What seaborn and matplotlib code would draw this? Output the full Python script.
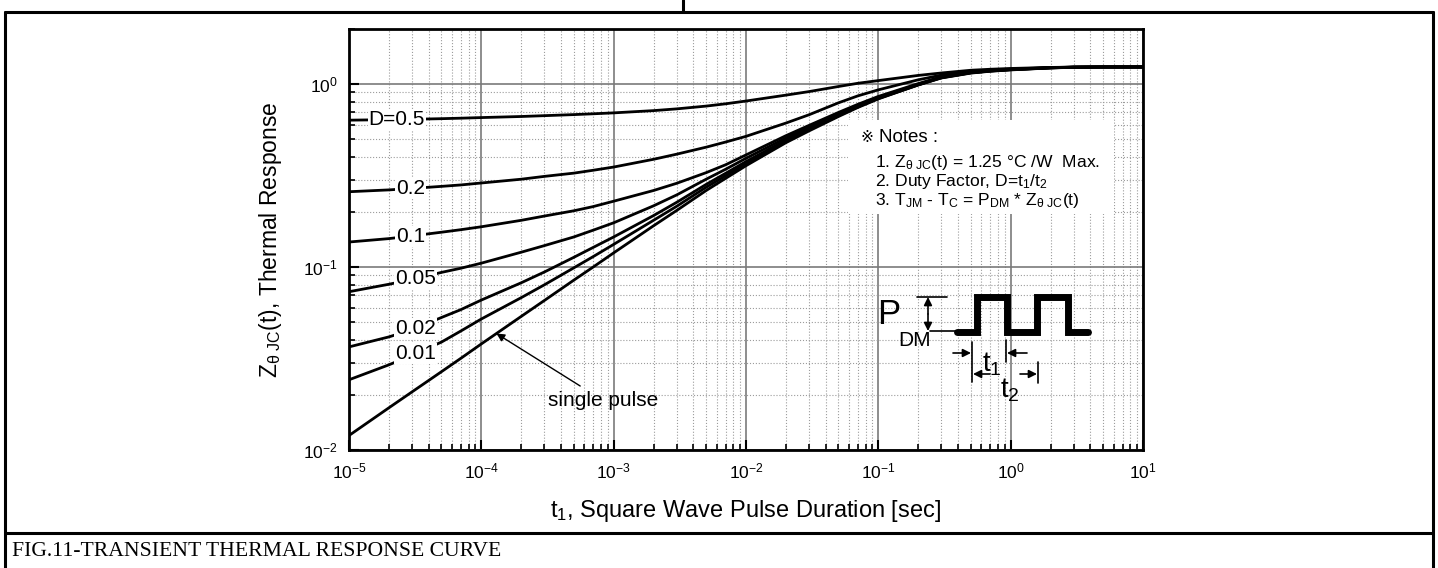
import matplotlib

matplotlib.use("Agg")
import matplotlib.pyplot as plt
import numpy as np
import pandas as pd
import seaborn as sns
from matplotlib.lines import Line2D
from matplotlib.patches import Rectangle
from matplotlib.ticker import LogLocator, NullFormatter

# reference canvas in pixels, figure is built 1:1 at dpi=100
W, H = 1438, 568

# transient thermal impedance (log-log)
pulse_duration = [1e-5, 2e-5, 3e-5, 5e-5, 7e-5,
                  1e-4, 2e-4, 3e-4, 5e-4, 7e-4,
                  1e-3, 2e-3, 3e-3, 5e-3, 7e-3,
                  1e-2, 2e-2, 3e-2, 5e-2, 7e-2,
                  1e-1, 2e-1, 3e-1, 5e-1, 7e-1,
                  1.0, 2.0, 3.0, 5.0, 7.0, 10.0]
z_d050 = [0.635, 0.639, 0.642, 0.647, 0.651,
          0.656, 0.665, 0.672, 0.681, 0.688,
          0.696, 0.716, 0.732, 0.758, 0.780,
          0.808, 0.870, 0.910, 0.970, 1.010,
          1.045, 1.115, 1.150, 1.190, 1.205,
          1.217, 1.233, 1.238, 1.240, 1.240, 1.240]
z_d020 = [0.258, 0.264, 0.269, 0.276, 0.281,
          0.288, 0.302, 0.313, 0.326, 0.338,
          0.352, 0.388, 0.414, 0.452, 0.482,
          0.518, 0.612, 0.680, 0.790, 0.862,
          0.930, 1.055, 1.120, 1.174, 1.193,
          1.208, 1.231, 1.238, 1.240, 1.240, 1.240]
z_d010 = [0.137, 0.143, 0.148, 0.155, 0.160,
          0.166, 0.180, 0.190, 0.203, 0.214,
          0.229, 0.262, 0.287, 0.328, 0.362,
          0.410, 0.522, 0.595, 0.700, 0.775,
          0.856, 1.006, 1.096, 1.161, 1.185,
          1.204, 1.229, 1.237, 1.240, 1.240, 1.240]
z_d005 = [0.0733, 0.0805, 0.0855, 0.0935, 0.0985,
          0.1050, 0.1205, 0.1310, 0.1460, 0.1590,
          0.1745, 0.2160, 0.2480, 0.3020, 0.3420,
          0.3930, 0.5070, 0.5820, 0.6870, 0.7630,
          0.8450, 0.9980, 1.0900, 1.1570, 1.1820,
          1.2020, 1.2280, 1.2370, 1.240, 1.240, 1.240]
z_d002 = [0.0366, 0.0415, 0.0455, 0.0530, 0.0585,
          0.0660, 0.0820, 0.0940, 0.1130, 0.1280,
          0.146, 0.191, 0.226, 0.283, 0.325,
          0.377, 0.494, 0.570, 0.677, 0.755,
          0.838, 0.992, 1.086, 1.154, 1.180,
          1.200, 1.227, 1.236, 1.240, 1.240, 1.240]
z_d001 = [0.0242, 0.0292, 0.0330, 0.0389, 0.0447,
          0.0520, 0.0680, 0.0800, 0.0990, 0.1140,
          0.133, 0.180, 0.215, 0.273, 0.315,
          0.368, 0.487, 0.563, 0.671, 0.750,
          0.834, 0.988, 1.083, 1.152, 1.178,
          1.198, 1.226, 1.236, 1.240, 1.240, 1.240]
z_single = [0.0120, 0.0170, 0.0208, 0.0268, 0.0317,
            0.0380, 0.0537, 0.0657, 0.0848, 0.1000,
            0.1195, 0.168, 0.204, 0.262, 0.305,
            0.358, 0.478, 0.555, 0.665, 0.745,
            0.830, 0.990, 1.080, 1.148, 1.175,
            1.195, 1.225, 1.235, 1.240, 1.240, 1.240]

curve_names = ["D=0.5", "0.2", "0.1", "0.05", "0.02", "0.01", "single pulse"]
curve_values = [z_d050, z_d020, z_d010, z_d005, z_d002, z_d001, z_single]
label_t = [2.3e-5, 2.9e-5, 2.9e-5, 3.2e-5, 3.2e-5, 3.2e-5]

frame = pd.concat(
    [pd.DataFrame({"t": pulse_duration, "z": z, "curve": name})
     for name, z in zip(curve_names, curve_values)],
    ignore_index=True,
)


def on_curve(t, values):
    return 10 ** np.interp(np.log10(t), np.log10(pulse_duration), np.log10(values))


def fig_xy(x, y):
    return x / W, 1 - y / H


sns.set_theme(style="white")
plt.rcParams["font.family"] = ["Liberation Sans", "DejaVu Sans"]
plt.rcParams["mathtext.fontset"] = "custom"
plt.rcParams["mathtext.rm"] = "Liberation Sans"
plt.rcParams["mathtext.it"] = "Liberation Sans:italic"
plt.rcParams["mathtext.bf"] = "Liberation Sans:bold"
plt.rcParams["text.color"] = "black"
plt.rcParams["axes.labelcolor"] = "black"

fig = plt.figure(figsize=(W / 100, H / 100), dpi=100)
ax = fig.add_axes([349 / W, 1 - 450 / H, (1143 - 349) / W, (450 - 29) / H])

sns.lineplot(data=frame, x="t", y="z", units="curve", estimator=None,
             color="black", linewidth=2.0, legend=False, ax=ax, zorder=3)
ax.set_xscale("log")
ax.set_yscale("log")
ax.set_xlim(1e-5, 10)
ax.set_ylim(0.01, 2)

for axis in (ax.xaxis, ax.yaxis):
    axis.set_major_locator(LogLocator(base=10, numticks=20))
    axis.set_minor_locator(LogLocator(base=10, subs=np.arange(2, 10), numticks=20))
    axis.set_minor_formatter(NullFormatter())

ax.set_axisbelow(True)
ax.grid(which="major", color="#7a7a7a", linewidth=1.2, linestyle="-")
ax.grid(which="minor", color="#9c9c9c", linewidth=0.8, linestyle=":")
ax.tick_params(which="both", direction="in", bottom=True, left=True,
               top=False, right=False, colors="black", labelsize=12.5)
ax.tick_params(which="major", length=7, width=1.5, pad=8)
ax.tick_params(which="minor", length=4, width=1.2)
for spine in ax.spines.values():
    spine.set_color("black")
    spine.set_linewidth(2.0)

ax.set_xlabel(r"t$_1$, Square Wave Pulse Duration [sec]", fontsize=17, labelpad=12)
ax.set_ylabel(r"Z$_{\mathrm{θ\ JC}}$(t), Thermal Response", fontsize=16.5, labelpad=14)

# duty-cycle labels sitting on the curves
for name, z, t in zip(curve_names[:-1], curve_values[:-1], label_t):
    ax.text(t, on_curve(t, z), name, ha="center", va="center", fontsize=15,
            zorder=4, bbox=dict(facecolor="white", edgecolor="none", pad=0.8))

ax.annotate("single pulse", xy=(1.3e-4, on_curve(1.3e-4, z_single)),
            xytext=(8.3e-4, 0.0187), ha="center", va="center", fontsize=15,
            arrowprops=dict(arrowstyle="-|>", color="black", lw=1.0,
                            mutation_scale=12, shrinkA=2, shrinkB=0),
            zorder=4)

# notes block
ax.add_patch(Rectangle(fig_xy(848, 214), 266 / W, 94 / H, transform=fig.transFigure,
                       facecolor="white", edgecolor="none", zorder=1))
fig.text(*fig_xy(860, 137), "\u203b", fontsize=11, va="center",
         family=["DejaVu Sans", "Noto Sans CJK JP"])
fig.text(*fig_xy(879, 137), "Notes :", fontsize=13.5, va="center")
notes = [
    r"1. Z$_{\mathrm{θ\ JC}}$(t) = 1.25 °C /W  Max.",
    r"2. Duty Factor, D=t$_1$/t$_2$",
    r"3. T$_{\mathrm{JM}}$ - T$_{\mathrm{C}}$ = P$_{\mathrm{DM}}$ * Z$_{\mathrm{θ\ JC}}$(t)",
]
for line, y in zip(notes, [162, 181, 200]):
    fig.text(*fig_xy(875, y), line, fontsize=12.6, va="center")

# pulse train sketch
wave_x = [957, 977, 977, 1007, 1007, 1037, 1037, 1068, 1068, 1088]
wave_y = [332, 332, 297, 297, 332, 332, 297, 297, 332, 332]
fig.add_artist(Line2D([x / W for x in wave_x], [1 - y / H for y in wave_y],
                      transform=fig.transFigure, color="black", linewidth=5,
                      solid_joinstyle="miter"))
for (x0, y0, x1, y1) in [(917, 297, 947, 297), (930, 331, 957, 331),
                         (972, 342, 972, 382), (1006, 340, 1006, 362),
                         (1038, 362, 1038, 383)]:
    fig.add_artist(Line2D([x0 / W, x1 / W], [1 - y0 / H, 1 - y1 / H],
                          transform=fig.transFigure, color="black", linewidth=1.2))
arrow = dict(arrowstyle="-|>", color="black", lw=1.2, mutation_scale=12,
             shrinkA=0, shrinkB=0)
for (x0, y0, x1, y1) in [(928, 314, 928, 297), (928, 314, 928, 331),
                         (953, 353, 971, 353), (1027, 353, 1007, 353),
                         (990, 374, 973, 374), (1020, 374, 1037, 374)]:
    fig.add_artist(plt.Annotation("", xy=fig_xy(x1, y1), xytext=fig_xy(x0, y0),
                                  xycoords="figure fraction",
                                  textcoords="figure fraction", arrowprops=arrow))
fig.text(*fig_xy(889, 314), "P", fontsize=25, ha="center", va="center")
fig.text(*fig_xy(915, 341), "DM", fontsize=15, ha="center", va="center")
fig.text(*fig_xy(992, 364), r"t$_1$", fontsize=20, ha="center", va="center")
fig.text(*fig_xy(1010, 390), r"t$_2$", fontsize=20, ha="center", va="center")

# document table borders and caption
for (x0, y0, x1, y1) in [(5, 12, 1433, 12), (5, 12, 5, 568), (1433, 12, 1433, 568),
                         (683, 0, 683, 12), (5, 533, 1433, 533)]:
    fig.add_artist(Line2D([x0 / W, x1 / W], [1 - y0 / H, 1 - y1 / H],
                          transform=fig.transFigure, color="black", linewidth=2.2))
fig.text(*fig_xy(12, 551), "FIG.11-TRANSIENT THERMAL RESPONSE CURVE",
         family="Liberation Serif", fontsize=15.6, va="center")

fig.savefig("out.png", dpi=100)
plt.close(fig)
